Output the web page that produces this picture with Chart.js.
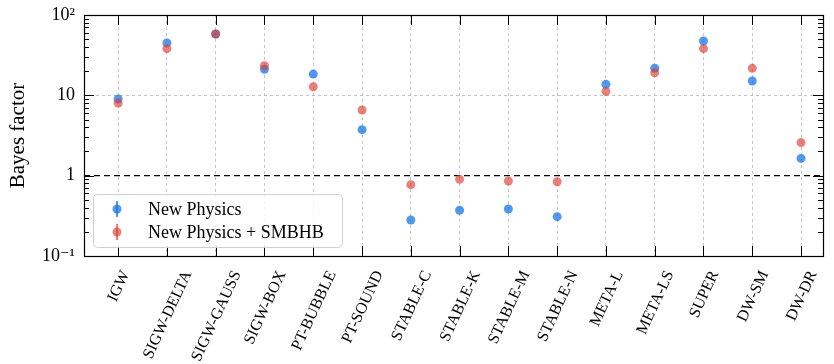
<!DOCTYPE html>
<html>
<head>
<meta charset="utf-8">
<script src="https://cdn.jsdelivr.net/npm/chart.js@4/dist/chart.umd.min.js"></script>
<style>
    html, body { margin: 0; padding: 0; background: #fff; }
    #wrap { width: 834px; height: 364px; }
</style>
</head>
<body>
<div id="wrap"><canvas id="chart" width="834" height="364"></canvas></div>
<script>
// Model names along the x axis
const categories = ['IGW', 'SIGW-DELTA', 'SIGW-GAUSS', 'SIGW-BOX', 'PT-BUBBLE', 'PT-SOUND',
    'STABLE-C', 'STABLE-K', 'STABLE-M', 'STABLE-N', 'META-L', 'META-LS', 'SUPER', 'DW-SM', 'DW-DR'];

// Bayes factors
const newPhysics = [9.0, 44.9, 58, 21.1, 18.4, 3.74, 0.281, 0.371, 0.385, 0.309, 13.7, 21.7, 47.5, 15.1, 1.64];
const newPhysicsSmbhb = [8.0, 38.1, 58, 23.4, 12.8, 6.57, 0.773, 0.90, 0.859, 0.84, 11.2, 19.1, 38.1, 21.7, 2.58];

// y tick labels (decades only)
const decadeLabels = { '-1': '10⁻¹', '0': '1', '1': '10', '2': '10²' };
const legendLabels = ['New Physics', 'New Physics + SMBHB'];

const blue = 'rgba(20, 120, 235, 0.75)';
const red = 'rgba(225, 60, 50, 0.65)';
const serif = '"Liberation Serif", "DejaVu Serif", serif';
const xMin = -0.7, xMax = 14.45;
const labelAngle = 65 * Math.PI / 180;

function isDecade(v) {
    const l = Math.log10(v);
    return Math.abs(l - Math.round(l)) < 1e-9;
}

// Frame, inward ticks on all four sides, rotated x labels and the legend box
const framePlugin = {
    id: 'frame',
    afterDraw(chart) {
        const { ctx, chartArea: a, scales } = chart;
        const x = scales.x, y = scales.y;
        ctx.save();
        ctx.strokeStyle = '#000';
        ctx.lineWidth = 1;

        // x ticks (top and bottom)
        categories.forEach((c, i) => {
            const px = Math.round(x.getPixelForValue(i)) + 0.5;
            ctx.beginPath();
            ctx.moveTo(px, a.bottom); ctx.lineTo(px, a.bottom - 10);
            ctx.moveTo(px, a.top); ctx.lineTo(px, a.top + 10);
            ctx.stroke();
        });

        // y ticks, major and minor, left and right
        for (let d = -1; d <= 2; d++) {
            for (let m = 1; m <= 9; m++) {
                const v = m * Math.pow(10, d);
                if (v < 0.1 - 1e-12 || v > 100 + 1e-9) continue;
                const py = Math.round(y.getPixelForValue(v)) + 0.5;
                const len = m === 1 ? 10 : 5;
                ctx.beginPath();
                ctx.moveTo(a.left, py); ctx.lineTo(a.left + len, py);
                ctx.moveTo(a.right, py); ctx.lineTo(a.right - len, py);
                ctx.stroke();
            }
        }

        // plot frame
        ctx.lineWidth = 1.2;
        ctx.strokeRect(Math.round(a.left) + 0.5, Math.round(a.top) + 0.5,
            Math.round(a.right - a.left), Math.round(a.bottom - a.top));

        // x labels, rotated and centred under their tick (matplotlib style)
        ctx.font = '16px ' + serif;
        ctx.fillStyle = '#000';
        ctx.textAlign = 'center';
        ctx.textBaseline = 'middle';
        const capH = 11;
        categories.forEach((c, i) => {
            const w = ctx.measureText(c).width;
            const boxH = w * Math.sin(labelAngle) + capH * Math.cos(labelAngle);
            ctx.save();
            ctx.translate(x.getPixelForValue(i), a.bottom + 13 + boxH / 2);
            ctx.rotate(-labelAngle);
            ctx.fillText(c, 0, 1);
            ctx.restore();
        });

        // legend
        const lx = a.left + 9, ly = a.bottom - 62, lw = 249, lh = 53;
        ctx.beginPath();
        ctx.roundRect(lx + 0.5, ly + 0.5, lw, lh, 4);
        ctx.fillStyle = 'rgba(255,255,255,0.8)';
        ctx.fill();
        ctx.strokeStyle = '#d0d0d0';
        ctx.lineWidth = 1;
        ctx.stroke();

        const colors = [blue, red];
        ctx.font = '18px ' + serif;
        ctx.textAlign = 'left';
        ctx.textBaseline = 'middle';
        legendLabels.forEach((label, i) => {
            const my = ly + 15 + i * 23;
            const mx = lx + 24;
            ctx.strokeStyle = colors[i];
            ctx.lineWidth = 2;
            ctx.beginPath();
            ctx.moveTo(mx, my - 8); ctx.lineTo(mx, my + 8);
            ctx.stroke();
            ctx.fillStyle = colors[i];
            ctx.beginPath();
            ctx.arc(mx, my, 4.5, 0, Math.PI * 2);
            ctx.fill();
            ctx.fillStyle = '#000';
            ctx.fillText(label, lx + 55, my + 1);
        });
        ctx.restore();
    }
};

const toPoints = arr => arr.map((v, i) => ({ x: i, y: v }));

new Chart(document.getElementById('chart'), {
    type: 'scatter',
    data: {
        datasets: [{
            label: 'unity',
            data: [{ x: xMin, y: 1 }, { x: xMax, y: 1 }],
            showLine: true,
            borderColor: '#000',
            borderWidth: 1.4,
            borderDash: [6, 4],
            pointRadius: 0,
            order: 3
        }, {
            label: legendLabels[0],
            data: toPoints(newPhysics),
            backgroundColor: blue,
            borderWidth: 0,
            pointRadius: 4.5,
            order: 2
        }, {
            label: legendLabels[1],
            data: toPoints(newPhysicsSmbhb),
            backgroundColor: red,
            borderWidth: 0,
            pointRadius: 4.5,
            order: 1
        }]
    },
    options: {
        responsive: false,
        animation: false,
        layout: { padding: { top: 15, right: 11, left: 0, bottom: 0 } },
        plugins: {
            legend: { display: false },
            tooltip: { enabled: false }
        },
        scales: {
            x: {
                type: 'linear',
                min: xMin,
                max: xMax,
                afterBuildTicks: scale => {
                    scale.ticks = categories.map((c, i) => ({ value: i }));
                },
                afterFit: scale => {
                    scale.height = 108;
                    scale.paddingLeft = 0;
                    scale.paddingRight = 0;
                },
                ticks: { display: false },
                grid: {
                    color: '#b5b5b5',
                    lineWidth: 0.8,
                    drawTicks: false
                },
                border: { display: false, dash: [3, 3] }
            },
            y: {
                type: 'logarithmic',
                min: 0.1,
                max: 100,
                afterFit: scale => {
                    scale.width = 84;
                    scale.paddingTop = 0;
                    scale.paddingBottom = 0;
                },
                title: {
                    display: true,
                    text: 'Bayes factor',
                    color: '#000',
                    font: { family: serif, size: 21 },
                    padding: { top: 6, bottom: 0 }
                },
                ticks: {
                    autoSkip: false,
                    padding: 9,
                    color: '#000',
                    font: { family: serif, size: 18 },
                    callback: v => isDecade(v) ? decadeLabels[String(Math.round(Math.log10(v)))] : ''
                },
                grid: {
                    color: ctx => (ctx.tick && Math.abs(ctx.tick.value - 10) < 1e-9) ? '#b5b5b5' : 'transparent',
                    lineWidth: 0.8,
                    drawTicks: false
                },
                border: { display: false, dash: [3, 3] }
            }
        }
    },
    plugins: [framePlugin]
});
</script>
</body>
</html>
